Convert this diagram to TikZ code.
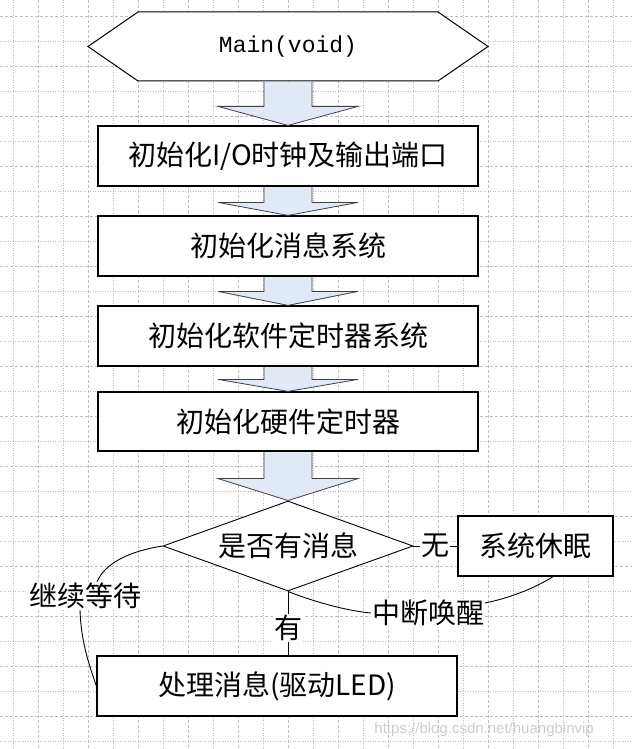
\documentclass[tikz,border=0pt]{standalone}
\usepackage{fontspec}
\usetikzlibrary{calc,shapes.geometric}
\newfontfamily\cjkfont{Noto Sans CJK SC}
\newfontfamily\codefont{Liberation Mono}
\newfontfamily\markfont{Liberation Sans}
\definecolor{arrowblue}{RGB}{226,233,246}
\definecolor{gridgray}{RGB}{190,190,190}

\tikzset{
  gridmajor/.style={gridgray, line width=0.8pt, dash pattern=on 3pt off 2pt},
  gridminor/.style={gridgray, line width=0.8pt, dash pattern=on 1pt off 1.5pt},
  stepbox/.style={draw, line width=1.2pt, fill=white, minimum height=60pt, inner sep=0pt,
    font=\cjkfont\fontsize{28}{32}\selectfont},
  lbl/.style={fill=white, inner sep=1pt, font=\cjkfont\fontsize{28}{32}\selectfont},
  wire/.style={line width=0.9pt},
  fatarrow/.style={draw=black!75, line width=0.8pt, fill=arrowblue,
    to path={let \p1=(\tikztostart), \p2=(\tikztotarget) in
      (\x1-24pt,\y1-0.6pt) -- (\x1-24pt,\y2+#1) -- (\x1-70pt,\y2+#1) -- (\x2,\y2)
      -- (\x1+70pt,\y2+#1) -- (\x1+24pt,\y2+#1) -- (\x1+24pt,\y1-0.6pt)}}
}

\begin{document}
\begin{tikzpicture}[x=1pt, y=-1pt]
  \useasboundingbox (0,0) rectangle (632,749);

  % grid
  \foreach \x in {13,63,...,613} \draw[gridminor] (\x,0) -- (\x,749);
  \foreach \x in {38,88,...,588} \draw[gridmajor] (\x,0) -- (\x,749);
  \foreach \y in {16,66,...,716} \draw[gridmajor] (0,\y) -- (632,\y);
  \foreach \y in {41,91,...,741} \draw[gridminor] (0,\y) -- (632,\y);

  % start
  \draw[line width=1pt, fill=white] (88,46.5) -- (138,12) -- (438,12) -- (488,46.5)
    -- (438,81) -- (138,81) -- cycle;
  \node[minimum width=300pt, minimum height=69pt, inner sep=0pt,
    font=\codefont\fontsize{23}{27}\selectfont] (main) at (288,46.5) {Main(void)};

  \node[stepbox, minimum width=380pt] (init1) at (288,156) {初始化I/O时钟及输出端口};
  \node[stepbox, minimum width=380pt] (init2) at (288,246) {初始化消息系统};
  \node[stepbox, minimum width=380pt] (init3) at (288,336) {初始化软件定时器系统};
  \node[stepbox, minimum width=380pt, minimum height=59pt] (init4) at (288,421.5) {初始化硬件定时器};
  \node[stepbox, diamond, shape aspect=2.78, minimum width=250pt, minimum height=90pt,
    line width=0.9pt] (ask) at (288,546) {是否有消息};
  \node[stepbox, minimum width=155pt] (sleep) at (535.5,546) {系统休眠};
  \node[stepbox, minimum width=360pt] (handle) at (277,686) {处理消息(驱动LED)};

  \draw[fatarrow=19pt] (main.south) to (init1.north);
  \draw[fatarrow=13pt] (init1.south) to (init2.north);
  \draw[fatarrow=14pt] (init2.south) to (init3.north);
  \draw[fatarrow=12pt] (init3.south) to (init4.north);
  \draw[fatarrow=22pt] (init4.south) to (ask.north);

  % branches
  \draw[wire] (ask.east) -- node[lbl]{无} (sleep.west);
  \draw[wire] (ask.south) -- node[lbl, pos=0.57]{有} (ask.south |- handle.north);

  \node[lbl] (wake) at (428,613) {中断唤醒};
  \draw[wire] (ask.south) .. controls (320,604) and (350,611) .. (wake.west);
  \draw[wire] (wake.10) .. controls (510,598) and (535,588) .. ($(sleep.south)+(17.5,0)$);

  \node[lbl] (wait) at (85,596) {继续等待};
  \draw[wire] (ask.west) .. controls (130,551) and (105,563) .. ($(wait.north)+(12,0)$);
  \draw[wire] ($(wait.south)+(-5,0)$) .. controls (81,640) and (88,662) .. (handle.west);

  \node[anchor=east, text=black!20, inner sep=0pt, font=\markfont\fontsize{15}{17}\selectfont]
    (mark) at (594,730) {https://blog.csdn.net/huangbinvip};
\end{tikzpicture}
\end{document}
